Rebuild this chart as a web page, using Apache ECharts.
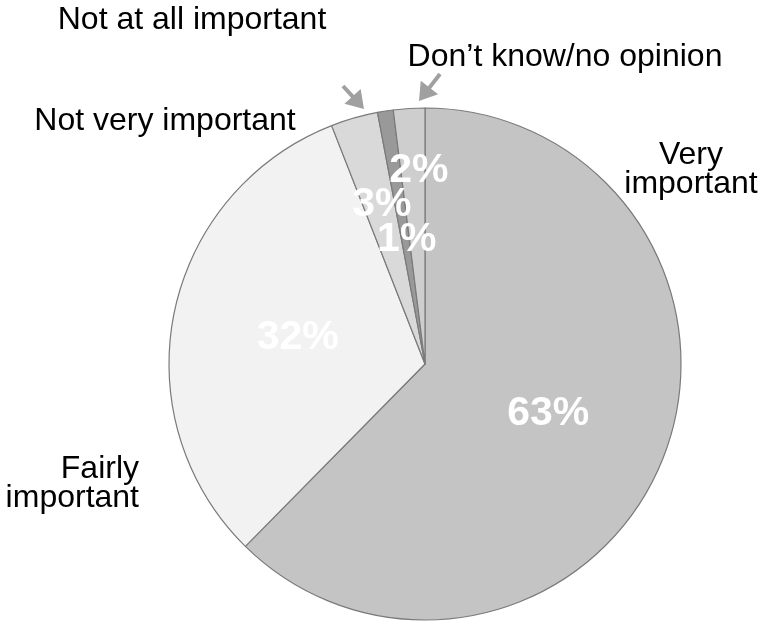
<!DOCTYPE html>
<html><head><meta charset="utf-8">
<script src="https://cdn.jsdelivr.net/npm/echarts@6/dist/echarts.min.js"></script>
<style>html,body{margin:0;padding:0;background:#fff}#c{width:760px;height:624px}</style>
</head><body><div id="c"></div>
<script>
// ---- data ----
const categories = ['Very important', 'Fairly important', 'Not very important', 'Not at all important', 'Don’t know/no opinion'];
const values = [63, 32, 3, 1, 2];
const outerLabels = ['Very\nimportant', 'Fairly\nimportant', 'Not very important', 'Not at all important', 'Don’t know/no opinion'];

// ---- styles / layout ----
const sliceColors = ['#c4c4c4', '#f2f2f2', '#d9d9d9', '#999999', '#cecece'];
const innerShift = [[2, 0], [1, 0], [-7, -33], [2, 5], [2, -63]];
const outerPos = [[691, 170, 'center'], [139, 484, 'right'], [165, 121, 'center'], [192, 20, 'center'], [565, 57, 'center']];
const arrows = [[[343, 86], [364, 109]], [[440, 74], [419, 101]]];
const FONT = '"Liberation Sans", Arial, sans-serif';

function arrowGraphics(a) {
  const [s, e] = a;
  const dx = e[0] - s[0], dy = e[1] - s[1];
  const len = Math.hypot(dx, dy);
  const ux = dx / len, uy = dy / len;
  const hl = 17, hw = 11;
  const bx = e[0] - ux * hl, by = e[1] - uy * hl;
  const nx = -uy, ny = ux;
  return [
    { type: 'line', shape: { x1: s[0], y1: s[1], x2: bx + ux, y2: by + uy }, style: { stroke: '#a0a0a0', lineWidth: 4 }, z: 10 },
    { type: 'polygon', shape: { points: [[e[0], e[1]], [bx + nx * hw, by + ny * hw], [bx - nx * hw, by - ny * hw]] }, style: { fill: '#a0a0a0' }, z: 10 }
  ];
}

const chart = echarts.init(document.getElementById('c'), null, { renderer: 'canvas' });
chart.setOption({
  animation: false,
  backgroundColor: '#ffffff',
  graphic: arrows.flatMap(arrowGraphics),
  series: [
    {
      type: 'pie',
      center: [425, 364],
      radius: 256,
      startAngle: 90,
      clockwise: true,
      avoidLabelOverlap: false,
      silent: true,
      emphasis: { disabled: true },
      data: values.map((v, i) => ({ name: categories[i], value: v, itemStyle: { color: sliceColors[i] } })),
      itemStyle: { borderColor: '#7a7a7a', borderWidth: 1.2 },
      label: {
        show: true, position: 'inside', formatter: '{c}%',
        color: '#ffffff', fontSize: 41, fontWeight: 'bold', fontFamily: FONT,
        textBorderWidth: 0
      },
      labelLine: { show: false },
      labelLayout: p => ({ dx: innerShift[p.dataIndex][0], dy: innerShift[p.dataIndex][1] }),
      z: 2
    },
    {
      type: 'pie',
      center: [425, 364],
      radius: 256,
      startAngle: 90,
      clockwise: true,
      avoidLabelOverlap: false,
      silent: true,
      emphasis: { disabled: true },
      data: values.map((v, i) => ({ name: categories[i], value: v })),
      itemStyle: { color: 'rgba(0,0,0,0)', borderWidth: 0 },
      label: {
        show: true, position: 'outside',
        formatter: p => outerLabels[p.dataIndex],
        color: '#000000', fontSize: 32, lineHeight: 29, fontFamily: FONT
      },
      labelLine: { show: false },
      labelLayout: p => ({
        x: outerPos[p.dataIndex][0], y: outerPos[p.dataIndex][1],
        align: outerPos[p.dataIndex][2], verticalAlign: 'middle'
      }),
      z: 1
    }
  ]
});
</script>
</body></html>
